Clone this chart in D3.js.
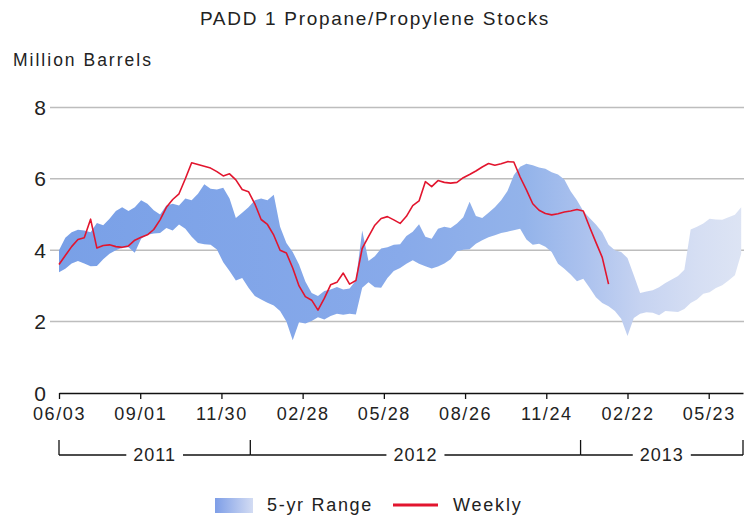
<!DOCTYPE html>
<html>
<head>
<meta charset="utf-8">
<script src="https://cdn.jsdelivr.net/npm/d3@7"></script>
<style>
  html, body { margin: 0; padding: 0; background: #fff; }
  svg { display: block; }
  text { font-family: "Liberation Sans", Arial, sans-serif; fill: #222; }
</style>
</head>
<body>
<svg id="chart" width="756" height="524"></svg>
<script>
// Weekly series, first week ending 2011-06-03
const firstWeek = "2011-06-03";

// PADD 1 weekly propane/propylene stocks (million barrels)
const weekly = [
  3.60, 3.85, 4.10, 4.30, 4.35, 4.87, 4.06, 4.13, 4.15, 4.10,
  4.08, 4.12, 4.28, 4.36, 4.43, 4.58, 4.85, 5.20, 5.42, 5.58,
  6.00, 6.45, 6.40, 6.35, 6.30, 6.20, 6.08, 6.14, 5.97, 5.70,
  5.64, 5.30, 4.86, 4.72, 4.42, 4.00, 3.92, 3.50, 3.00, 2.70,
  2.60, 2.32, 2.65, 3.03, 3.10, 3.36, 3.05, 3.15, 4.05, 4.38,
  4.70, 4.89, 4.94, 4.85, 4.75, 4.95, 5.25, 5.38, 5.92, 5.78,
  5.95, 5.90, 5.88, 5.90, 6.03, 6.12, 6.22, 6.33, 6.43, 6.38,
  6.42, 6.48, 6.47, 6.05, 5.69, 5.30, 5.12, 5.03, 4.99, 5.02,
  5.07, 5.10, 5.14, 5.10, 4.65, 4.22, 3.80, 3.05
];

// Five-year range: weekly maximum and minimum
const rangeHigh = [
  4.00, 4.35, 4.50, 4.57, 4.55, 4.50, 4.76, 4.70, 4.88, 5.10,
  5.20, 5.10, 5.20, 5.40, 5.30, 5.12, 5.00, 5.25, 5.30, 5.25,
  5.45, 5.40, 5.58, 5.85, 5.72, 5.70, 5.75, 5.45, 4.90, 5.05,
  5.20, 5.40, 5.45, 5.40, 5.55, 4.66, 4.20, 3.95, 3.60, 3.12,
  2.80, 2.72, 2.86, 2.90, 2.97, 2.90, 2.93, 3.15, 4.55, 3.70,
  3.83, 4.05, 4.08, 4.15, 4.17, 4.40, 4.52, 4.73, 4.38, 4.32,
  4.60, 4.66, 4.62, 4.75, 4.92, 5.36, 4.96, 4.90, 5.05, 5.20,
  5.40, 5.66, 6.10, 6.34, 6.42, 6.38, 6.32, 6.28, 6.18, 6.12,
  5.98, 5.65, 5.40, 5.10, 4.90, 4.72, 4.50, 4.15, 4.00, 3.95,
  3.78, 3.30, 2.80, 2.84, 2.88, 2.96, 3.08, 3.18, 3.28, 3.45,
  4.58, 4.66, 4.75, 4.88, 4.86, 4.85, 4.92, 4.99, 5.20
];
const rangeLow = [
  3.38, 3.48, 3.63, 3.70, 3.63, 3.55, 3.56, 3.75, 3.90, 4.00,
  4.07, 4.08, 3.93, 4.32, 4.43, 4.47, 4.48, 4.62, 4.55, 4.72,
  4.60, 4.38, 4.20, 4.17, 4.15, 4.02, 3.66, 3.42, 3.15, 3.22,
  2.95, 2.72, 2.62, 2.53, 2.45, 2.30, 2.00, 1.48, 1.98, 1.95,
  2.02, 2.12, 2.06, 2.16, 2.22, 2.19, 2.22, 2.20, 2.95, 3.10,
  2.96, 2.95, 3.22, 3.42, 3.50, 3.62, 3.72, 3.62, 3.55, 3.49,
  3.54, 3.63, 3.75, 3.97, 4.01, 4.03, 4.18, 4.28, 4.36, 4.42,
  4.48, 4.52, 4.56, 4.60, 4.30, 4.15, 4.18, 4.10, 3.95, 3.62,
  3.48, 3.32, 3.13, 3.20, 2.95, 2.68, 2.52, 2.43, 2.30, 2.08,
  1.60, 2.10, 2.22, 2.26, 2.25, 2.18, 2.30, 2.28, 2.27, 2.35,
  2.52, 2.62, 2.78, 2.82, 2.94, 3.02, 3.15, 3.30, 3.90
];

// Axis ticks
const xTickDates = ["2011-06-03", "2011-09-01", "2011-11-30", "2012-02-28", "2012-05-28",
                    "2012-08-26", "2012-11-24", "2013-02-22", "2013-05-23"];
const yTicks = [0, 2, 4, 6, 8];
const yearBounds = ["2011-06-03", "2012-01-01", "2013-01-01", "2013-06-30"];
const yearLabels = ["2011", "2012", "2013"];

const parse = d3.utcParse("%Y-%m-%d");
const start = parse(firstWeek);
const weekDate = i => d3.utcDay.offset(start, 7 * i);

const rangeData = rangeHigh.map((hi, i) => ({ date: weekDate(i), hi, lo: rangeLow[i] }));
const weeklyData = weekly.map((v, i) => ({ date: weekDate(i), v }));

const svg = d3.select("#chart");

const x = d3.scaleUtc()
  .domain([parse(yearBounds[0]), parse(yearBounds[yearBounds.length - 1])])
  .range([59, 743]);
const y = d3.scaleLinear().domain([0, 8]).range([393, 107.4]);

// Band fill fades from saturated blue to pale toward the right
const defs = svg.append("defs");
const grad = defs.append("linearGradient")
  .attr("id", "bandFill")
  .attr("gradientUnits", "userSpaceOnUse")
  .attr("x1", x.range()[0]).attr("x2", x.range()[1])
  .attr("y1", 0).attr("y2", 0);
[[0, "#79a0e7"], [0.5, "#88aaea"], [0.68, "#93b3ea"], [0.77, "#acc2ee"],
 [0.85, "#c6d3f1"], [0.93, "#d5def3"], [1, "#dde4f4"]]
  .forEach(([o, c]) => grad.append("stop").attr("offset", o).attr("stop-color", c));

const legGrad = defs.append("linearGradient")
  .attr("id", "legendFill")
  .attr("x1", 0).attr("x2", 1).attr("y1", 0).attr("y2", 0);
[[0, "#7e9ee7"], [1, "#d3dcf3"]]
  .forEach(([o, c]) => legGrad.append("stop").attr("offset", o).attr("stop-color", c));

// Title and unit label
svg.append("text")
  .attr("x", 375).attr("y", 25)
  .attr("text-anchor", "middle")
  .style("font-size", "19px").style("letter-spacing", "1.7px")
  .text("PADD 1 Propane/Propylene Stocks");

svg.append("text")
  .attr("x", 13).attr("y", 66)
  .style("font-size", "17.5px").style("letter-spacing", "2px")
  .text("Million Barrels");

// Horizontal gridlines
svg.append("g")
  .selectAll("line")
  .data(yTicks.filter(d => d > 0))
  .join("line")
  .attr("x1", 50).attr("x2", 744)
  .attr("y1", d => y(d)).attr("y2", d => y(d))
  .attr("stroke", "#bdbdbd").attr("stroke-width", 1.5);

// Y tick labels
svg.append("g")
  .selectAll("text")
  .data(yTicks)
  .join("text")
  .attr("x", 46).attr("y", d => y(d))
  .attr("dy", "0.36em")
  .attr("text-anchor", "end")
  .style("font-size", "21px")
  .text(d => d);

// Five-year range band
svg.append("path")
  .datum(rangeData)
  .attr("fill", "url(#bandFill)")
  .attr("d", d3.area()
    .x(d => x(d.date))
    .y0(d => y(d.lo))
    .y1(d => y(d.hi)));

// Weekly stocks line
svg.append("path")
  .datum(weeklyData)
  .attr("fill", "none")
  .attr("stroke", "#e2152e")
  .attr("stroke-width", 1.6)
  .attr("stroke-linejoin", "round")
  .attr("d", d3.line().x(d => x(d.date)).y(d => y(d.v)));

// Date axis
const xAxis = svg.append("g")
  .attr("transform", `translate(0,${y(0)})`)
  .call(d3.axisBottom(x)
    .tickValues(xTickDates.map(parse))
    .tickFormat(d3.utcFormat("%m/%d"))
    .tickSize(6)
    .tickSizeOuter(0)
    .tickPadding(8));
xAxis.select(".domain").attr("stroke", "#111").attr("stroke-width", 1.5);
xAxis.selectAll(".tick line").attr("stroke", "#111").attr("stroke-width", 1.3);
xAxis.selectAll(".tick text")
  .attr("fill", "#333")
  .style("font-family", "\"Liberation Sans\", Arial, sans-serif")
  .style("font-size", "18px")
  .style("letter-spacing", "1.6px");

// Year brackets beneath the date axis
const yearG = svg.append("g");
const bracketY = 455, bracketTop = 440;
const bx = yearBounds.map(s => x(parse(s)));
bx.forEach(px => {
  yearG.append("line")
    .attr("x1", px).attr("x2", px)
    .attr("y1", bracketTop).attr("y2", bracketY)
    .attr("stroke", "#111").attr("stroke-width", 1.3);
});
yearLabels.forEach((lab, i) => {
  const x0 = bx[i], x1 = bx[i + 1], cx = (x0 + x1) / 2;
  const t = yearG.append("text")
    .attr("x", cx).attr("y", bracketY)
    .attr("dy", "0.36em")
    .attr("text-anchor", "middle")
    .attr("fill", "#333")
    .style("font-size", "18px").style("letter-spacing", "1px")
    .text(lab);
  const w = t.node().getComputedTextLength();
  const gap = w / 2 + 7;
  yearG.append("line")
    .attr("x1", x0).attr("x2", cx - gap)
    .attr("y1", bracketY).attr("y2", bracketY)
    .attr("stroke", "#111").attr("stroke-width", 1.3);
  yearG.append("line")
    .attr("x1", cx + gap).attr("x2", x1)
    .attr("y1", bracketY).attr("y2", bracketY)
    .attr("stroke", "#111").attr("stroke-width", 1.3);
});

// Legend
const leg = svg.append("g");
leg.append("rect")
  .attr("x", 215).attr("y", 498).attr("width", 38).attr("height", 15)
  .attr("fill", "url(#legendFill)");
leg.append("text")
  .attr("x", 267).attr("y", 511)
  .attr("fill", "#333")
  .style("font-size", "18px").style("letter-spacing", "1.7px")
  .text("5-yr Range");
leg.append("line")
  .attr("x1", 393).attr("x2", 438).attr("y1", 505).attr("y2", 505)
  .attr("stroke", "#e2152e").attr("stroke-width", 3);
leg.append("text")
  .attr("x", 453).attr("y", 511)
  .attr("fill", "#333")
  .style("font-size", "18px").style("letter-spacing", "1.8px")
  .text("Weekly");
</script>
</body>
</html>
